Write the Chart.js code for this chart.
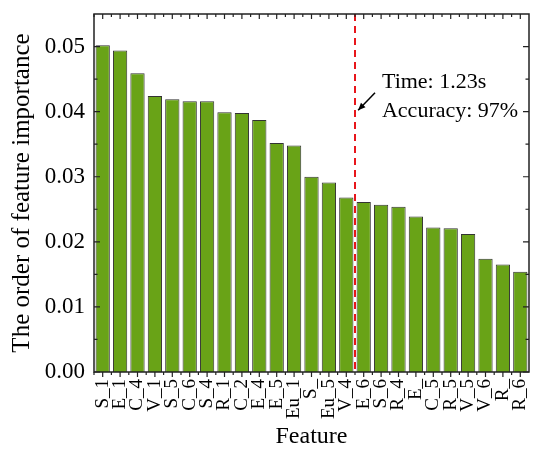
<!DOCTYPE html>
<html lang="en">
<head>
    <meta charset="UTF-8">
    <title>Feature importance</title>
    <script src="https://cdn.jsdelivr.net/npm/chart.js"></script>
    <style>
        html, body { margin: 0; padding: 0; background: #fff; }
        #wrap { width: 550px; height: 454px; }
    </style>
</head>
<body>
<div id="wrap"><canvas id="myChart"></canvas></div>

<script>
// data
const features = ['S_1', 'E_1', 'C_4', 'V_1', 'S_5', 'C_6', 'S_4', 'R_1', 'C_2', 'E_4', 'E_5', 'Eu_1', 'S_',
                  'Eu_5', 'V_4', 'E_6', 'S_6', 'R_4', 'E_', 'C_5', 'R_5', 'V_5', 'V_6', 'R_', 'R_6'];
const importance = [0.0502, 0.0494, 0.0459, 0.0424, 0.0419, 0.0416, 0.0416, 0.0399, 0.0398, 0.0387, 0.0352, 0.0348, 0.0300,
                    0.0291, 0.0268, 0.0261, 0.0257, 0.0254, 0.0239, 0.0222, 0.0221, 0.0212, 0.0174, 0.0165, 0.0154];
const yTicks = [0.00, 0.01, 0.02, 0.03, 0.04, 0.05];
const yMinorTicks = [0.005, 0.015, 0.025, 0.035, 0.045];
const cutAfter = 14.5;          // dashed line between V_4 and E_6
const noteLines = ['Time: 1.23s', 'Accuracy: 97%'];

const serif = '"Liberation Serif", "Times New Roman", serif';

// frame, inside ticks, dashed cut line, note + arrow
const decor = {
    id: 'decor',
    afterDatasetsDraw(chart) {
        const {ctx, chartArea: a, scales: {x, y}} = chart;
        ctx.save();
        // cut line
        const cx = x.getPixelForValue(cutAfter);
        ctx.strokeStyle = '#e8161b';
        ctx.lineWidth = 2;
        ctx.setLineDash([7, 5]);
        ctx.beginPath();
        ctx.moveTo(cx, a.top);
        ctx.lineTo(cx, a.bottom);
        ctx.stroke();
        ctx.setLineDash([]);

        // frame
        ctx.strokeStyle = '#222';
        ctx.lineWidth = 1.5;
        ctx.strokeRect(a.left, a.top, a.right - a.left, a.bottom - a.top);

        // y ticks (inside, both sides)
        ctx.lineWidth = 1.2;
        ctx.beginPath();
        yTicks.forEach(v => {
            const py = y.getPixelForValue(v);
            ctx.moveTo(a.left, py); ctx.lineTo(a.left + 6, py);
            ctx.moveTo(a.right, py); ctx.lineTo(a.right - 6, py);
        });
        yMinorTicks.forEach(v => {
            const py = y.getPixelForValue(v);
            ctx.moveTo(a.left, py); ctx.lineTo(a.left + 3.5, py);
            ctx.moveTo(a.right, py); ctx.lineTo(a.right - 3.5, py);
        });
        // x ticks: bottom outside, top inside
        features.forEach((f, i) => {
            const px = x.getPixelForValue(i);
            ctx.moveTo(px, a.bottom); ctx.lineTo(px, a.bottom + 5);
            ctx.moveTo(px, a.top); ctx.lineTo(px, a.top + 5);
            const bx = x.getPixelForValue(i - 0.5);
            ctx.moveTo(bx, a.bottom); ctx.lineTo(bx, a.bottom + 3);
            ctx.moveTo(bx, a.top); ctx.lineTo(bx, a.top + 3);
        });
        ctx.stroke();

        // note
        ctx.fillStyle = '#000';
        ctx.font = '22px ' + serif;
        ctx.textAlign = 'left';
        ctx.textBaseline = 'alphabetic';
        ctx.fillText(noteLines[0], x.getPixelForValue(16.05), y.getPixelForValue(0.0437));
        ctx.fillText(noteLines[1], x.getPixelForValue(16.05), y.getPixelForValue(0.0391));

        // arrow
        const x1 = x.getPixelForValue(15.65), y1 = y.getPixelForValue(0.0429);
        const x2 = x.getPixelForValue(14.68), y2 = y.getPixelForValue(0.0402);
        ctx.strokeStyle = '#000';
        ctx.lineWidth = 1.5;
        ctx.beginPath();
        ctx.moveTo(x1, y1); ctx.lineTo(x2, y2);
        ctx.stroke();
        const ang = Math.atan2(y2 - y1, x2 - x1);
        ctx.beginPath();
        ctx.moveTo(x2, y2);
        ctx.lineTo(x2 - 8 * Math.cos(ang - 0.4), y2 - 8 * Math.sin(ang - 0.4));
        ctx.lineTo(x2 - 8 * Math.cos(ang + 0.4), y2 - 8 * Math.sin(ang + 0.4));
        ctx.closePath();
        ctx.fill();
        ctx.restore();
    }
};

const ctx = document.getElementById('myChart').getContext('2d');
const myChart = new Chart(ctx, {
    type: 'bar',
    data: {
        labels: features,
        datasets: [{
            data: importance,
            backgroundColor: '#69a317',
            borderColor: '#333333',
            borderWidth: 1,
            barPercentage: 0.82,
            categoryPercentage: 1
        }]
    },
    options: {
        responsive: true,
        maintainAspectRatio: false,
        animation: false,
        layout: { padding: { left: 0, right: 21, top: 14, bottom: 0 } },
        plugins: { legend: { display: false }, tooltip: { enabled: false } },
        scales: {
            x: {
                grid: { display: false, drawTicks: false },
                border: { display: false },
                ticks: {
                    autoSkip: false,
                    minRotation: 90,
                    maxRotation: 90,
                    padding: 7,
                    color: '#000',
                    font: { family: serif, size: 19 }
                },
                title: {
                    display: true,
                    text: 'Feature',
                    color: '#000',
                    font: { family: serif, size: 24 },
                    padding: { top: 0, bottom: 3 }
                },
                afterFit(scale) {
                    scale.height = 82;
                    scale.paddingLeft = 0;
                    scale.paddingRight = 0;
                }
            },
            y: {
                min: 0,
                max: 0.055,
                grid: { display: false, drawTicks: false },
                border: { display: false },
                afterBuildTicks(scale) { scale.ticks = yTicks.map(v => ({ value: v })); },
                ticks: {
                    padding: 9,
                    color: '#000',
                    font: { family: serif, size: 23 },
                    callback: v => v.toFixed(2)
                },
                title: {
                    display: true,
                    text: 'The order of feature importance',
                    color: '#000',
                    font: { family: serif, size: 25 },
                    padding: { top: 7, bottom: 0 }
                },
                afterFit(scale) {
                    scale.width = 94;
                    scale.paddingTop = 0;
                    scale.paddingBottom = 0;
                }
            }
        }
    },
    plugins: [decor]
});
</script>
</body>
</html>
